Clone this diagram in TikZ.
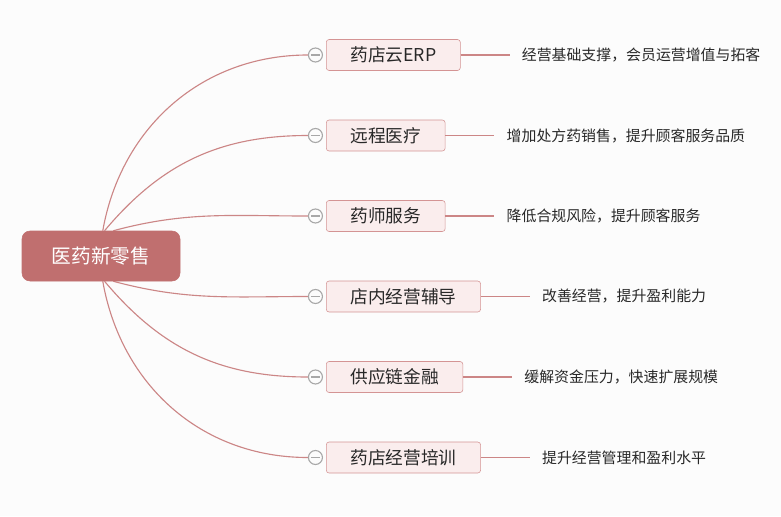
\documentclass[tikz,border=0pt]{standalone}
\usepackage{fontspec}
\setmainfont{Noto Sans CJK SC}
\usepackage{xcolor}
\usetikzlibrary{positioning,backgrounds}

\definecolor{rootred}{RGB}{192,111,111}
\definecolor{topicfill}{RGB}{250,237,237}
\definecolor{topicline}{RGB}{212,148,148}
\definecolor{branchred}{RGB}{204,134,134}
\definecolor{knobgray}{RGB}{168,168,168}
\definecolor{textdark}{RGB}{40,40,40}
\definecolor{paper}{RGB}{252,252,252}

\begin{document}
\begin{tikzpicture}[
  rootbox/.style={fill=rootred,draw=rootred,rounded corners=0.2cm,minimum width=3.95cm,minimum height=1.25cm,text=white,font=\fontsize{14}{16}\selectfont},
  topicbox/.style={draw=topicline,fill=topicfill,rounded corners=2pt,minimum height=0.775cm,inner xsep=0.6cm,inner ysep=0pt,text=textdark,font=\fontsize{12.6}{14}\selectfont},
  collapse/.style={circle,draw=knobgray,line width=0.8pt,fill=paper,minimum size=0.35cm,inner sep=0pt},
  knob/.style={draw=knobgray,line width=0.8pt},
  branch/.style={draw=branchred,line width=0.8pt},
  note/.style={inner sep=0pt,text=textdark,font=\fontsize{10.6}{12}\selectfont}]
\begin{scope}[on background layer]
  \fill[paper] (0,0) rectangle (19.525,-12.9);
\end{scope}
\useasboundingbox (0,0) rectangle (19.525,-12.9);
\node[rootbox] (root) at (2.525,-6.4) {医药新零售};
\foreach \i/\lab/\txt/\ang/\out in {0/{药店云ERP}/{经营基础支撑，会员运营增值与拓客}/86/80,1/{远程医疗}/{增加处方药销售，提升顾客服务品质}/82/50,2/{药师服务}/{降低合规风险，提升顾客服务}/64/15,3/{店内经营辅导}/{改善经营，提升盈利能力}/296/-15,4/{供应链金融}/{缓解资金压力，快速扩展规模}/278/-50,5/{药店经营培训}/{提升经营管理和盈利水平}/274/-80}{
  \node[topicbox,anchor=west] (t\i) at (8.15,-1.375-\i*2.0125) {\lab};
  \node[collapse,left=0.075cm of t\i] (c\i) {};
  \draw[knob] ([xshift=0.075cm]c\i.west) -- ([xshift=-0.075cm]c\i.east);
  \coordinate[right=1.225cm of t\i] (e\i);
  \draw[branch] (t\i) -- (e\i);
  \node[note,right=0.3cm of e\i] (d\i) {\txt};
  \begin{scope}[on background layer]
    \draw[branch] (root.\ang) to[out=\out,in=180] (c\i.west);
  \end{scope}
}
\end{tikzpicture}
\end{document}
